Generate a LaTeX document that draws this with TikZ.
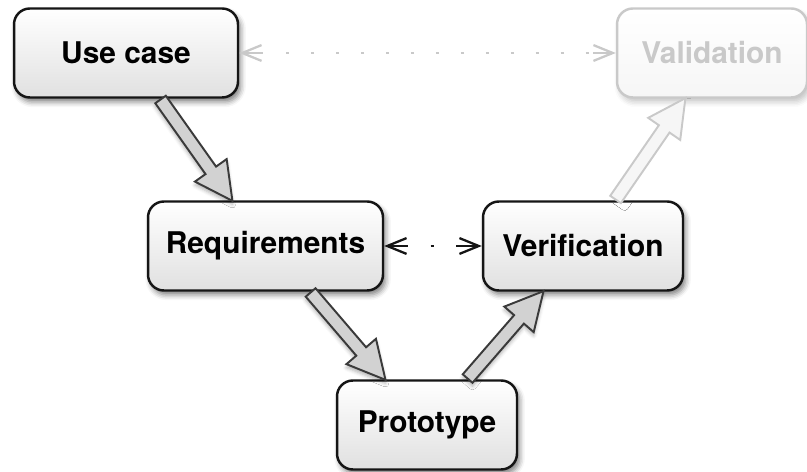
\documentclass[tikz,border=0pt]{standalone}
\usepackage{fontspec}
\setsansfont{TeX Gyre Heros}
\usetikzlibrary{arrows.meta,calc,shapes.arrows,shadows.blur}
\definecolor{ink}{HTML}{151515}
\definecolor{arrowink}{HTML}{3A3A3A}
\definecolor{arrowfill}{HTML}{D2D2D2}
\definecolor{faded}{HTML}{C9C9C9}
% hollow block arrow laid from one anchor to another
\newcommand{\fatarrow}[3]{%
  \path let \p1=(#1), \p2=(#2), \n1={atan2(\y2-\y1,\x2-\x1)},
            \n2={veclen(\x2-\x1,\y2-\y1)} in
    node[#3, rotate=\n1, minimum height=\n2] at (#1) {};}

\begin{document}
\begin{tikzpicture}[
  x=0.02cm, y=-0.02cm, line join=round,
  stage/.style={draw=ink, line width=1.4pt, rounded corners=9pt,
                top color=white, bottom color=gray!24, minimum height=1.78cm,
                font=\sffamily\bfseries\fontsize{17}{20}\selectfont,
                blur shadow={shadow xshift=1.5pt, shadow yshift=-2.5pt,
                             shadow blur radius=3pt, shadow opacity=50}},
  faintstage/.style={stage, draw=faded, text=faded, top color=white,
                bottom color=gray!7,
                blur shadow={shadow xshift=1.5pt, shadow yshift=-2.5pt,
                             shadow blur radius=3pt, shadow opacity=12}},
  fat/.style={single arrow, draw=arrowink, fill=arrowfill, line width=1.1pt,
              line join=miter, inner xsep=0pt, inner ysep=0.11cm,
              single arrow head extend=0.26cm, single arrow tip angle=55,
              anchor=tail,
              blur shadow={shadow xshift=0pt, shadow yshift=-2pt,
                           shadow blur radius=2pt, shadow opacity=30}},
  faintfat/.style={fat, draw=faded, fill=gray!7,
              blur shadow={shadow opacity=0}},
  link/.style={line width=1.3pt,
               {Straight Barb[length=11pt,width=9pt]}-{Straight Barb[length=11pt,width=9pt]}}]

\useasboundingbox (0,0) rectangle (807,472);

% ==================================================== the stages
\node[stage, minimum width=4.48cm] (usecase) at (126,53) {Use case};
\node[faintstage, minimum width=3.8cm] (validation) at (712,53) {Validation};
\node[stage, minimum width=4.7cm] (req) at (265.5,246) {Requirements};
\node[stage, minimum width=4.0cm] (verif) at (583,246) {Verification};
\node[stage, minimum width=3.6cm] (proto) at (427,425) {Prototype};

% ==================================================== down and up the V
\fatarrow{[xshift=0.68cm]usecase.south}{[xshift=-0.67cm]req.north}{fat}
\fatarrow{[xshift=0.89cm]req.south}{[xshift=-0.84cm]proto.north}{fat}
\fatarrow{[xshift=0.80cm]proto.north}{[xshift=-0.80cm]verif.south}{fat}
\fatarrow{[xshift=0.64cm]verif.north}{[xshift=-0.54cm]validation.south}{faintfat}

% ==================================================== cross checks
% stem, a row of dots, stem
\draw[link, faded, dash pattern=on 11pt off 13.4pt
      on 1.7pt off 12.5pt on 1.7pt off 12.5pt on 1.7pt off 12.5pt
      on 1.7pt off 12.5pt on 1.7pt off 12.5pt on 1.7pt off 12.5pt
      on 1.7pt off 12.5pt on 1.7pt off 12.5pt on 1.7pt off 12.5pt
      on 1.7pt off 12.5pt on 1.7pt off 12.5pt on 1.7pt off 12.5pt
      on 1.7pt off 2.5pt on 15pt off 10pt]
  (usecase) -- (validation);
\draw[link, ink, dash pattern=on 11pt off 13pt on 1.7pt off 13pt
      on 15pt off 10pt]
  (req) -- (verif);

\end{tikzpicture}
\end{document}
